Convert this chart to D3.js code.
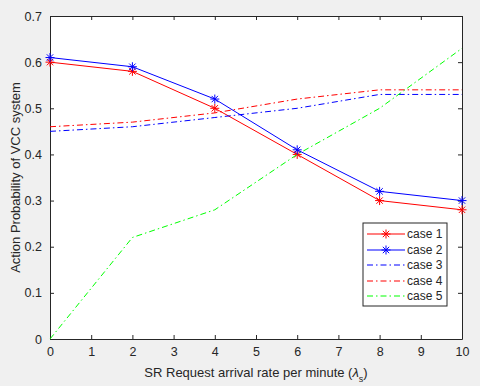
<!DOCTYPE html>
<html>
<head>
<meta charset="utf-8">
<script src="https://cdn.jsdelivr.net/npm/d3@7"></script>
<style>
  body { margin: 0; background: #f0f0f0; }
  text { font-family: "Liberation Sans", Arial, sans-serif; }
</style>
</head>
<body>
<script>
// chart data
var xVals = [0, 2, 4, 6, 8, 10];
var case1 = [0.60, 0.58, 0.50, 0.40, 0.30, 0.28];
var case2 = [0.61, 0.59, 0.52, 0.41, 0.32, 0.30];
var case3 = [0.45, 0.46, 0.48, 0.50, 0.53, 0.53];
var case4 = [0.46, 0.47, 0.49, 0.52, 0.54, 0.54];
var case5 = [0.00, 0.22, 0.28, 0.40, 0.50, 0.63];
var seriesNames = ["case 1", "case 2", "case 3", "case 4", "case 5"];
var xTicks = [0, 1, 2, 3, 4, 5, 6, 7, 8, 9, 10];
var yTicks = [0, 0.1, 0.2, 0.3, 0.4, 0.5, 0.6, 0.7];

var series = [
  {name: seriesNames[0], values: case1, color: "#ff0000", dash: null, marker: true},
  {name: seriesNames[1], values: case2, color: "#0000ff", dash: null, marker: true},
  {name: seriesNames[2], values: case3, color: "#0000ff", dash: "6,3,1.5,3", marker: false},
  {name: seriesNames[3], values: case4, color: "#ff0000", dash: "6,3,1.5,3", marker: false},
  {name: seriesNames[4], values: case5, color: "#00ff00", dash: "6,3,1.5,3", marker: false}
];

var W = 480, H = 386;
var margin = {top: 16, right: 18, bottom: 47, left: 50},
    width = W - margin.left - margin.right,
    height = H - margin.top - margin.bottom;

var svg = d3.select("body").append("svg")
    .attr("width", W)
    .attr("height", H);

var g = svg.append("g")
    .attr("transform", "translate(" + margin.left + "," + margin.top + ")");

g.append("rect")
    .attr("width", width)
    .attr("height", height)
    .attr("fill", "#fff");

var x = d3.scaleLinear().domain([0, 10]).range([0, width]);
var y = d3.scaleLinear().domain([0, 0.7]).range([height, 0]);

var axisColor = "#262626";

// matlab-like axes: inward ticks on all four sides
function styleAxis(sel) {
  sel.selectAll("path").attr("stroke", axisColor).attr("stroke-width", 1);
  sel.selectAll("line").attr("stroke", axisColor);
  sel.selectAll("text").attr("fill", axisColor).style("font-size", "12.5px");
}

g.append("g")
    .attr("transform", "translate(0," + height + ")")
    .call(d3.axisBottom(x).tickValues(xTicks).tickSizeInner(-4).tickSizeOuter(0).tickPadding(8).tickFormat(d3.format("d")))
    .call(styleAxis);

g.append("g")
    .call(d3.axisLeft(y).tickValues(yTicks).tickSizeInner(-4).tickSizeOuter(0).tickPadding(8)
      .tickFormat(function(d) { return d === 0 ? "0" : d3.format(".1f")(d); }))
    .call(styleAxis);

g.append("g")
    .call(d3.axisTop(x).tickValues(xTicks).tickSizeInner(-4).tickSizeOuter(0).tickFormat(""))
    .call(styleAxis);

g.append("g")
    .attr("transform", "translate(" + width + ",0)")
    .call(d3.axisRight(y).tickValues(yTicks).tickSizeInner(-4).tickSizeOuter(0).tickFormat(""))
    .call(styleAxis);

var line = d3.line()
    .x(function(d, i) { return x(xVals[i]); })
    .y(function(d) { return y(d); });

// asterisk marker path
function star(r) {
  var s = r * 0.7071;
  return "M" + (-r) + ",0L" + r + ",0" +
         "M0," + (-r) + "L0," + r +
         "M" + (-s) + "," + (-s) + "L" + s + "," + s +
         "M" + (-s) + "," + s + "L" + s + "," + (-s);
}

series.forEach(function(s) {
  g.append("path")
      .datum(s.values)
      .attr("d", line)
      .attr("fill", "none")
      .attr("stroke", s.color)
      .attr("stroke-width", 1)
      .attr("stroke-dasharray", s.dash);
  if (s.marker) {
    g.selectAll(null)
        .data(s.values)
      .enter().append("path")
        .attr("transform", function(d, i) { return "translate(" + x(xVals[i]) + "," + y(d) + ")"; })
        .attr("d", star(4.5))
        .attr("stroke", s.color)
        .attr("stroke-width", 1)
        .attr("fill", "none");
  }
});

// legend
var legend = svg.append("g").attr("transform", "translate(363,223)");
legend.append("rect")
    .attr("width", 84)
    .attr("height", 83)
    .attr("fill", "#fff")
    .attr("stroke", axisColor)
    .attr("stroke-width", 1);

series.forEach(function(s, i) {
  var ly = Math.round(11 + i * 15.5);
  var row = legend.append("g").attr("transform", "translate(0," + ly + ")");
  row.append("line")
      .attr("x1", 4).attr("x2", 42)
      .attr("stroke", s.color)
      .attr("stroke-width", 1.2)
      .attr("stroke-dasharray", s.dash);
  if (s.marker) {
    row.append("path")
        .attr("transform", "translate(23,0)")
        .attr("d", star(4.5))
        .attr("stroke", s.color)
        .attr("fill", "none");
  }
  row.append("text")
      .attr("x", 44)
      .attr("dy", "0.35em")
      .attr("fill", axisColor)
      .style("font-size", "12px")
      .text(s.name);
});

// axis labels
svg.append("text")
    .attr("x", margin.left + width / 2)
    .attr("y", 377)
    .attr("text-anchor", "middle")
    .attr("fill", axisColor)
    .style("font-size", "13px")
    .html("SR Request arrival rate per minute (<tspan font-style='italic'>λ</tspan><tspan baseline-shift='sub' font-size='9px'>s</tspan>)");

svg.append("text")
    .attr("transform", "rotate(-90)")
    .attr("x", -(margin.top + height / 2))
    .attr("y", 20)
    .attr("text-anchor", "middle")
    .attr("fill", axisColor)
    .style("font-size", "13px")
    .text("Action Probability of VCC system");
</script>
</body>
</html>
